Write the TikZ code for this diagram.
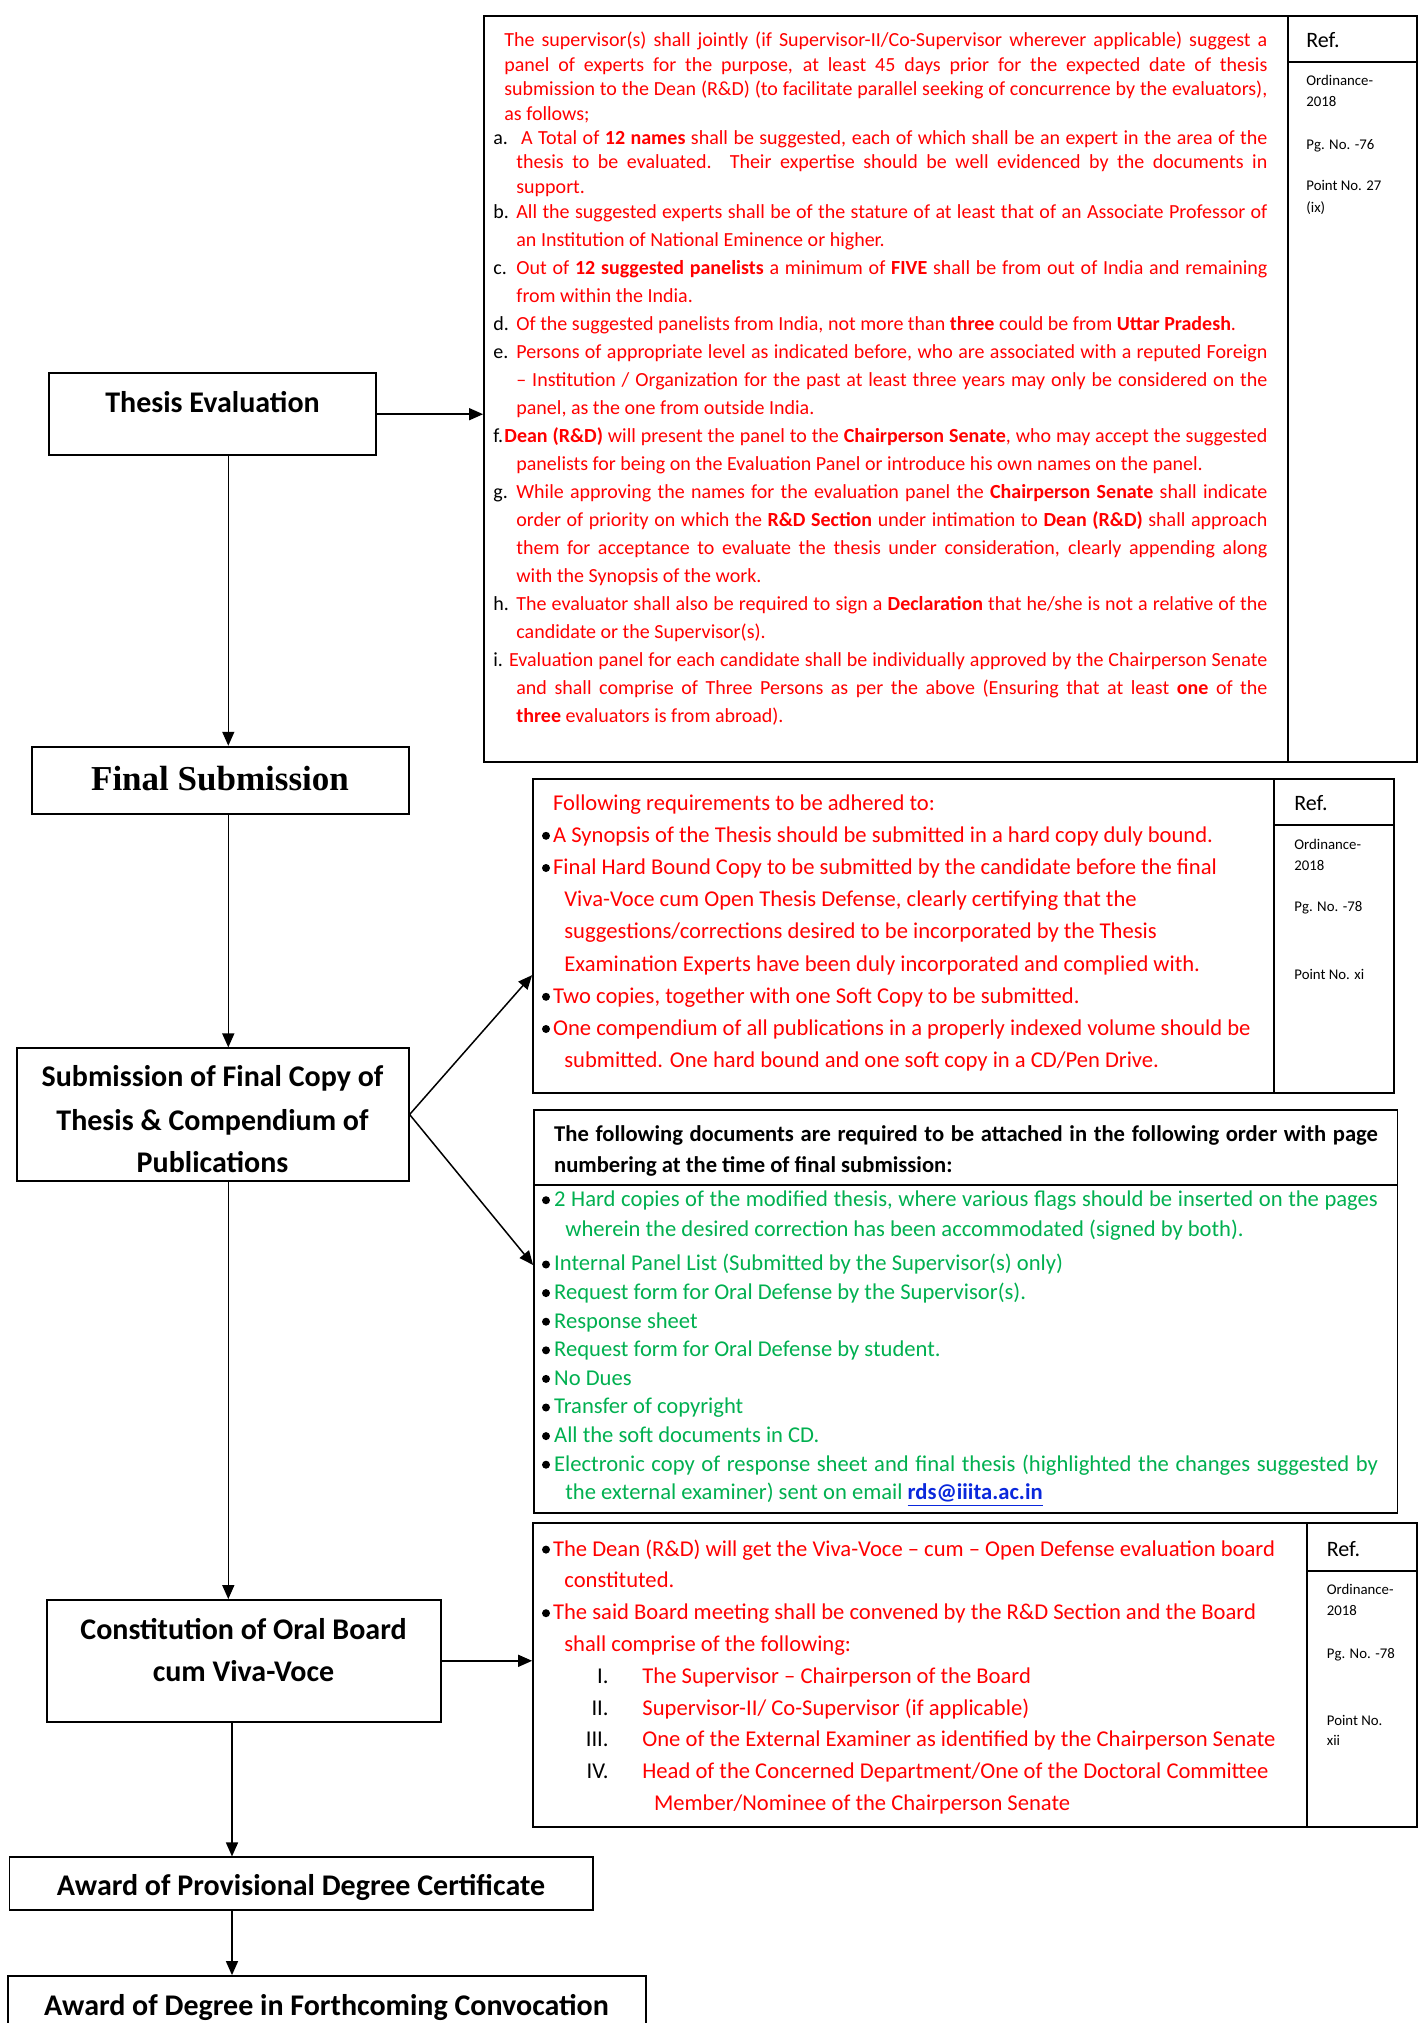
\documentclass[tikz,border=0pt]{standalone}
\usepackage{fontspec}
\setmainfont{Carlito}
\newfontfamily\tnr{Liberation Serif}
\usetikzlibrary{arrows.meta,calc}
\definecolor{redt}{RGB}{255,0,0}
\definecolor{grnt}{RGB}{0,176,80}
\definecolor{lnkt}{RGB}{10,40,220}
\newcommand\TB[3]{\vtop{\hsize=#1\relax\baselineskip=#2\relax\lineskiplimit=-100pt\lineskip=0pt\parindent=0pt\relax #3}}
\newcommand\Lj[3]{\hbox to \hsize{\makebox[#1][l]{#2}\makebox[\dimexpr\hsize-#1\relax][s]{#3}}}
\newcommand\Lr[3]{\hbox to \hsize{\makebox[#1][l]{#2}#3\hfil}}
\newcommand\Lrom[2]{\hbox to \hsize{\makebox[33.6pt][r]{\textcolor{black}{#1}}\hskip16.9pt #2\hfil}}
\newcommand\bul{\hspace*{0.3pt}\tikz[baseline=0pt]\fill[black] (2.2pt,3.2pt) circle (2.0pt);}
\newcommand\bk[1]{\textcolor{black}{#1}}
\tikzset{
  frame/.style={draw, line width=0.9pt, inner sep=0pt},
  fline/.style={line width=0.9pt},
  arr/.style={-{Triangle[length=7pt,width=6pt]}, line width=0.75pt},
  lbl/.style={font=\fontsize{15}{18}\selectfont\bfseries, inner sep=0pt, anchor=base},
  txt/.style={inner sep=0pt, anchor=base west},
  reftxt/.style={txt, font=\fontsize{7.4}{9}\selectfont},
  refhd/.style={txt, font=\fontsize{11}{13}\selectfont},
  rtxt10/.style={txt, text=redt, font=\fontsize{10}{12}\selectfont},
  rtxt11/.style={txt, text=redt, font=\fontsize{11.3}{13}\selectfont},
  gtxt11/.style={txt, text=grnt, font=\fontsize{11.3}{13}\selectfont},
}
\begin{document}
\begin{tikzpicture}[x=0.5pt,y=-0.5pt]
\useasboundingbox (0,0) rectangle (1419,2023);
\fill[white] (0,0) rectangle (1419,2023);
\clip (0,0) rectangle (1419,2023);

% ---------- left flow boxes ----------
\node[frame, minimum width=163.5pt, minimum height=40.85pt] (te) at (212.5,414.2) {};
\node[frame, minimum width=188.35pt, minimum height=33.65pt] (fs) at (220.3,780.3) {};
\node[frame, minimum width=195.7pt, minimum height=66.2pt] (sub) at (213,1114.5) {};
\node[frame, minimum width=196.9pt, minimum height=60.85pt] (cons) at (243.7,1660.8) {};
\node[frame, minimum width=291.65pt, minimum height=26.35pt] (prov) at (301.2,1883.7) {};
\node[frame, minimum width=319.1pt, minimum height=34.5pt] (deg) at (326.9,2010.5) {};

\node[lbl] (teT) at (212.5,412.3) {Thesis Evaluation};
\node[inner sep=0pt, anchor=base, font=\tnr\fontsize{17.5}{20}\selectfont\bfseries] (fsT) at (220,790) {Final Submission};
\node[lbl] (subT1) at (212.5,1086) {Submission of Final Copy of};
\node[lbl] (subT2) at (212.5,1130.5) {Thesis \& Compendium of};
\node[lbl] (subT3) at (212.5,1172) {Publications};
\node[lbl] (consT1) at (243.5,1639.3) {Constitution of Oral Board};
\node[lbl] (consT2) at (243.5,1681) {cum Viva-Voce};
\node[lbl] (provT) at (301,1895) {Award of Provisional Degree Certificate};
\node[lbl] (degT) at (326.5,2015.3) {Award of Degree in Forthcoming Convocation};

% ---------- right boxes ----------
\node[frame, minimum width=466.5pt, minimum height=373pt] (b1) at (950.5,389) {};
\draw[fline] (1288,16) -- (1288,762);
\draw[fline] (1288,62) -- (1417,62);
\node[frame, minimum width=430.5pt, minimum height=157pt] (b2) at (963.5,936) {};
\draw[fline] (1274,779) -- (1274,1093);
\draw[fline] (1274,825) -- (1394,825);
\node[frame, minimum width=431.75pt, minimum height=201.5pt] (b3) at (965.75,1311.5) {};
\draw[line width=0.6pt] (534,1185) -- (1397.5,1185);
\node[frame, minimum width=441.85pt, minimum height=151.7pt] (b4) at (974.85,1675) {};
\draw[fline] (1306.7,1523.3) -- (1306.7,1826.7);
\draw[fline] (1306.7,1570.7) -- (1416.7,1570.7);

% ---------- box 1 text ----------
\node[rtxt10] (b1a) at (493,46.7) {\TB{387pt}{12.22pt}{%
\Lj{5.5pt}{}{The supervisor(s) shall jointly (if Supervisor-II/Co-Supervisor wherever applicable) suggest a}
\Lj{5.5pt}{}{panel of experts for the purpose, at least 45 days prior for the expected date of thesis}
\Lj{5.5pt}{}{submission to the Dean (R\&D) (to facilitate parallel seeking of concurrence by the evaluators),}
\Lr{5.5pt}{}{as follows;}
\Lj{13.85pt}{\bk{a.}}{A Total of \textbf{12 names} shall be suggested, each of which shall be an expert in the area of the}
\Lj{11.5pt}{}{thesis to be evaluated. Their expertise should be well evidenced by the documents in}
\Lr{11.5pt}{}{support.}}};
\node[rtxt10] (b1b) at (493,218.3) {\TB{387pt}{14pt}{%
\Lj{11.5pt}{\bk{b.}}{All the suggested experts shall be of the stature of at least that of an Associate Professor of}
\Lr{11.5pt}{}{an Institution of National Eminence or higher.}
\Lj{11.5pt}{\bk{c.}}{Out of \textbf{12 suggested panelists} a minimum of \textbf{FIVE} shall be from out of India and remaining}
\Lr{11.5pt}{}{from within the India.}
\Lr{11.5pt}{\bk{d.}}{Of the suggested panelists from India, not more than \textbf{three} could be from \textbf{Uttar Pradesh}.}
\Lj{11.5pt}{\bk{e.}}{Persons of appropriate level as indicated before, who are associated with a reputed Foreign}
\Lj{11.5pt}{}{-- Institution / Organization for the past at least three years may only be considered on the}
\Lr{11.5pt}{}{panel, as the one from outside India.}
\Lj{5.5pt}{\bk{f.}}{\textbf{Dean (R\&D)} will present the panel to the \textbf{Chairperson Senate}, who may accept the suggested}
\Lr{11.5pt}{}{panelists for being on the Evaluation Panel or introduce his own names on the panel.}
\Lj{11.5pt}{\bk{g.}}{While approving the names for the evaluation panel the \textbf{Chairperson Senate} shall indicate}
\Lj{11.5pt}{}{order of priority on which the \textbf{R\&D Section} under intimation to \textbf{Dean (R\&D)} shall approach}
\Lj{11.5pt}{}{them for acceptance to evaluate the thesis under consideration, clearly appending along}
\Lr{11.5pt}{}{with the Synopsis of the work.}
\Lj{11.5pt}{\bk{h.}}{The evaluator shall also be required to sign a \textbf{Declaration} that he/she is not a relative of the}
\Lr{11.5pt}{}{candidate or the Supervisor(s).}
\Lj{7.85pt}{\bk{i.}}{Evaluation panel for each candidate shall be individually approved by the Chairperson Senate}
\Lj{11.5pt}{}{and shall comprise of Three Persons as per the above (Ensuring that at least \textbf{one} of the}
\Lr{11.5pt}{}{\textbf{three} evaluators is from abroad).}}};

\node[refhd] (r1h) at (1306,47.7) {Ref.};
\node[reftxt] (r1a) at (1306,85.8) {Ordinance-};
\node[reftxt] (r1b) at (1306,106.8) {2018};
\node[reftxt] (r1c) at (1306,149.2) {Pg. No. -76};
\node[reftxt] (r1d) at (1306,190.8) {Point No. 27};
\node[reftxt] (r1e) at (1306,212.5) {(ix)};

% ---------- box 2 text ----------
\node[rtxt11] (b2a) at (541,810) {\TB{366.5pt}{16.1pt}{%
\Lr{5.85pt}{}{Following requirements to be adhered to:}
\Lr{5.85pt}{\bul}{A Synopsis of the Thesis should be submitted in a hard copy duly bound.}
\Lr{5.85pt}{\bul}{Final Hard Bound Copy to be submitted by the candidate before the final}
\Lr{11.5pt}{}{Viva-Voce cum Open Thesis Defense, clearly certifying that the}
\Lr{11.5pt}{}{suggestions/corrections desired to be incorporated by the Thesis}
\Lr{11.5pt}{}{Examination Experts have been duly incorporated and complied with.}
\Lr{5.85pt}{\bul}{Two copies, together with one Soft Copy to be submitted.}
\Lr{5.85pt}{\bul}{One compendium of all publications in a properly indexed volume should be}
\Lr{11.5pt}{}{submitted. One hard bound and one soft copy in a CD/Pen Drive.}}};

\node[refhd] (r2h) at (1294,810) {Ref.};
\node[reftxt] (r2a) at (1294,849.5) {Ordinance-};
\node[reftxt] (r2b) at (1294,870.2) {2018};
\node[reftxt] (r2c) at (1294,911.5) {Pg. No. -78};
\node[reftxt] (r2d) at (1294,979.2) {Point No. xi};

% ---------- box 3 text ----------
\node[txt, font=\fontsize{11.3}{13}\selectfont\bfseries] (b3h) at (553.8,1141.6) {\TB{411.85pt}{15.5pt}{%
\Lj{0pt}{}{The following documents are required to be attached in the following order with page}
\Lr{0pt}{}{numbering at the time of final submission:}}};
\node[gtxt11] (b3a) at (541,1206.6) {\TB{418.25pt}{15pt}{%
\Lj{6.4pt}{\bul}{2 Hard copies of the modified thesis, where various flags should be inserted on the pages}
\Lr{12pt}{}{wherein the desired correction has been accommodated (signed by both).}}};
\node[gtxt11] (b3b) at (541,1270.9) {\TB{418.25pt}{14.3pt}{%
\Lr{6.4pt}{\bul}{Internal Panel List (Submitted by the Supervisor(s) only)}
\Lr{6.4pt}{\bul}{Request form for Oral Defense by the Supervisor(s).}
\Lr{6.4pt}{\bul}{Response sheet}
\Lr{6.4pt}{\bul}{Request form for Oral Defense by student.}
\Lr{6.4pt}{\bul}{No Dues}
\Lr{6.4pt}{\bul}{Transfer of copyright}
\Lr{6.4pt}{\bul}{All the soft documents in CD.}
\Lj{6.4pt}{\bul}{Electronic copy of response sheet and final thesis (highlighted the changes suggested by}
\Lr{12pt}{}{the external examiner) sent on email \textcolor{lnkt}{\underline{\textbf{rds@iiita.ac.in}}}}}};

% ---------- box 4 text ----------
\node[rtxt11] (b4a) at (541,1556) {\TB{380pt}{15.9pt}{%
\Lr{5.85pt}{\bul}{The Dean (R\&D) will get the Viva-Voce -- cum -- Open Defense evaluation board}
\Lr{11.5pt}{}{constituted.}
\Lr{5.85pt}{\bul}{The said Board meeting shall be convened by the R\&D Section and the Board}
\Lr{11.5pt}{}{shall comprise of the following:}
\Lrom{I.}{The Supervisor -- Chairperson of the Board}
\Lrom{II.}{Supervisor-II/ Co-Supervisor (if applicable)}
\Lrom{III.}{One of the External Examiner as identified by the Chairperson Senate}
\Lrom{IV.}{Head of the Concerned Department/One of the Doctoral Committee}
\Lr{56.3pt}{}{Member/Nominee of the Chairperson Senate}}};

\node[refhd] (r4h) at (1326.5,1556) {Ref.};
\node[reftxt] (r4a) at (1326.5,1594.5) {Ordinance-};
\node[reftxt] (r4b) at (1326.5,1615.2) {2018};
\node[reftxt] (r4c) at (1326.5,1658.5) {Pg. No. -78};
\node[reftxt] (r4d) at (1326.5,1725.2) {Point No.};
\node[reftxt] (r4e) at (1326.5,1745.8) {xii};

% ---------- connectors ----------
\coordinate (xa) at (228.3,0);
\coordinate (xb) at (232,0);
\draw[arr] (te.south -| xa) -- (fs.north -| xa);
\draw[arr] (fs.south -| xa) -- (sub.north -| xa);
\draw[arr] (sub.south -| xa) -- (cons.north -| xa);
\draw[arr] (cons.south -| xb) -- (prov.north -| xb);
\draw[arr] (prov.south -| xb) -- (deg.north -| xb);
\draw[arr] (te.east) -- (te.east -| b1.west);
\draw[arr] (cons.east) -- (cons.east -| b4.west);
\draw[arr] (sub.east) -- ($(b2.north west)!0.624!(b2.south west)$);
\draw[arr] (sub.east) -- ($(b3.north west)!0.385!(b3.south west)$);
\end{tikzpicture}
\end{document}
